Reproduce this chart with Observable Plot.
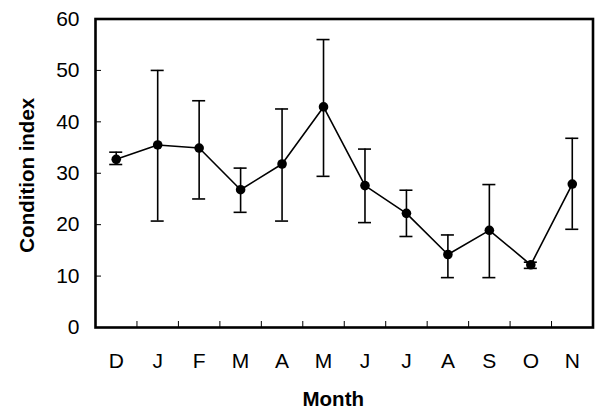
<!DOCTYPE html>
<html>
<head>
<meta charset="utf-8">
<script src="https://cdn.jsdelivr.net/npm/d3@7"></script>
<script src="https://cdn.jsdelivr.net/npm/@observablehq/plot@0.6"></script>
<style>
  html, body { margin: 0; padding: 0; background: #fff; }
  #chart { width: 596px; height: 410px; }
</style>
</head>
<body>
<div id="chart"></div>
<script>
// Month labels (December to November)
const months = ["D", "J", "F", "M", "A", "M", "J", "J", "A", "S", "O", "N"];
// Mean condition index per month
const means = [32.7, 35.5, 34.9, 26.8, 31.8, 42.9, 27.6, 22.2, 14.2, 18.9, 12.2, 27.9];
// Upper and lower ends of the error bars
const upper = [34.1, 50.0, 44.1, 31.0, 42.5, 56.0, 34.7, 26.7, 18.0, 27.8, 12.7, 36.8];
const lower = [31.7, 20.7, 25.0, 22.4, 20.7, 29.4, 20.4, 17.7, 9.7, 9.7, 11.5, 19.1];
// Y axis tick values
const yTicks = [0, 10, 20, 30, 40, 50, 60];

const data = months.map((m, i) => ({i, m, v: means[i], hi: upper[i], lo: lower[i]}));
const boundaries = d3.range(months.length - 1).map(i => i + 0.5);
const capHalf = 0.157;

const chart = Plot.plot({
  width: 596,
  height: 410,
  marginLeft: 95,
  marginRight: 3.5,
  marginTop: 18.5,
  marginBottom: 83,
  style: {fontFamily: "'Liberation Sans', Arial, sans-serif", background: "#fff", color: "#000"},
  x: {type: "linear", domain: [-0.5, months.length - 0.5]},
  y: {domain: [0, 60]},
  marks: [
    Plot.axisY(yTicks, {tickSize: 0, tickPadding: 16, fontSize: 21, label: null}),
    Plot.axisY(yTicks, {tickSize: -6, tickFormat: () => "", label: null, strokeWidth: 1}),
    Plot.axisX(d3.range(months.length), {tickSize: 0, tickPadding: 26, fontSize: 21, tickFormat: i => months[i], label: null}),
    Plot.axisX(boundaries, {tickSize: -6, tickFormat: () => "", label: null, strokeWidth: 1}),
    Plot.ruleX(data, {x: "i", y1: "lo", y2: "hi", stroke: "#000", strokeWidth: 1.6}),
    Plot.ruleY(data, {y: "hi", x1: d => d.i - capHalf, x2: d => d.i + capHalf, stroke: "#000", strokeWidth: 1.6}),
    Plot.ruleY(data, {y: "lo", x1: d => d.i - capHalf, x2: d => d.i + capHalf, stroke: "#000", strokeWidth: 1.6}),
    Plot.line(data, {x: "i", y: "v", stroke: "#000", strokeWidth: 1.6}),
    Plot.dot(data, {x: "i", y: "v", r: 4.8, fill: "#000", stroke: "none"}),
    Plot.frame({stroke: "#000", strokeWidth: 2.6}),
    Plot.text(["Condition index"], {text: d => d, frameAnchor: "left", rotate: -90, dx: -68, dy: 2, fontSize: 20.5, fontWeight: "bold", fill: "#000", textAnchor: "middle", lineAnchor: "middle"}),
    Plot.text(["Month"], {text: d => d, frameAnchor: "bottom", dx: -11, dy: 71.6, fontSize: 20.5, fontWeight: "bold", fill: "#000", textAnchor: "middle", lineAnchor: "middle"})
  ]
});
document.getElementById("chart").appendChild(chart);
</script>
</body>
</html>
